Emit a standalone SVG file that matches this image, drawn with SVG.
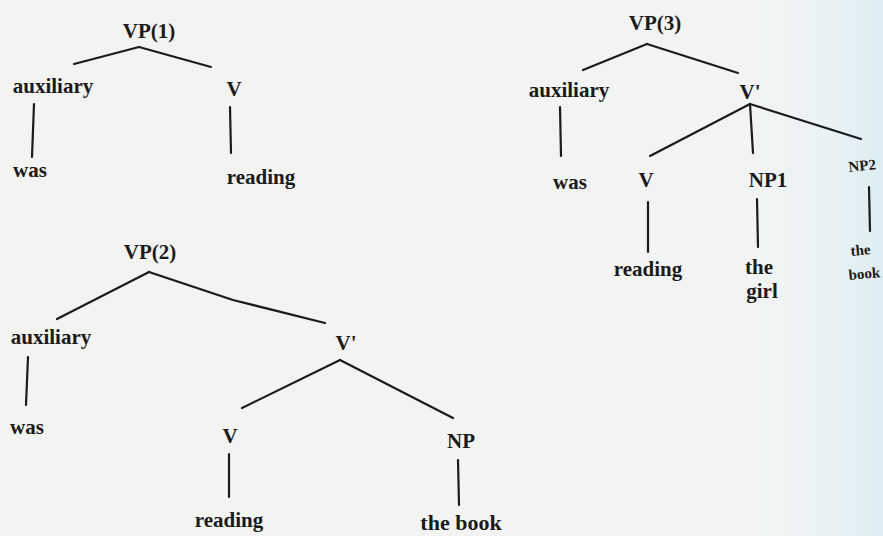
<svg xmlns="http://www.w3.org/2000/svg" width="883" height="536" viewBox="0 0 883 536">
  <defs>
    <linearGradient id="bg" x1="0" y1="0" x2="883" y2="0" gradientUnits="userSpaceOnUse">
      <stop offset="0" stop-color="#f3f3f1"/>
      <stop offset="0.85" stop-color="#f2f4f3"/>
      <stop offset="0.95" stop-color="#e8f2f5"/>
      <stop offset="1" stop-color="#dcedf4"/>
    </linearGradient>
    <style>
      text { font-family: "Liberation Serif", "DejaVu Serif", serif; font-weight: bold; font-size: 21px; fill: #1b1b1b; text-anchor: middle; }
      .l { text-anchor: start; }
      .sm { font-size: 15px; }
      line { stroke: #1b1b1b; stroke-width: 2.2; stroke-linecap: round; fill: none; }
    </style>
  </defs>
  <rect x="0" y="0" width="883" height="536" fill="url(#bg)"/>

  <g id="connectors">
    <!-- tree 1 -->
    <line x1="139" y1="47" x2="74" y2="64"/>
    <line x1="139" y1="47" x2="211" y2="67"/>
    <line x1="34" y1="104" x2="32" y2="157"/>
    <line x1="230" y1="107" x2="231" y2="153"/>
    <!-- tree 3 -->
    <line x1="647" y1="44" x2="583" y2="70"/>
    <line x1="647" y1="44" x2="738" y2="73"/>
    <line x1="560" y1="107" x2="561" y2="156"/>
    <line x1="750" y1="104" x2="650" y2="156"/>
    <line x1="750" y1="104" x2="753" y2="153"/>
    <line x1="750" y1="104" x2="861" y2="139"/>
    <line x1="648" y1="202" x2="648" y2="252"/>
    <line x1="757" y1="199" x2="758" y2="247"/>
    <line x1="869" y1="187" x2="870" y2="231"/>
    <!-- tree 2 -->
    <line x1="149" y1="272" x2="57" y2="319"/>
    <polyline points="149,272 233,300 325,323" style="stroke:#1b1b1b;stroke-width:2.2;fill:none;stroke-linecap:round;stroke-linejoin:round"/>
    <line x1="28" y1="357" x2="26" y2="405"/>
    <line x1="340" y1="360" x2="242" y2="408"/>
    <line x1="340" y1="360" x2="453" y2="418"/>
    <line x1="229" y1="454" x2="229" y2="497"/>
    <line x1="458" y1="460" x2="459" y2="505"/>
  </g>

  <!-- tree 1 -->
  <g id="t1-vp"><text x="149" y="38">VP(1)</text></g>
  <g id="t1-aux"><text x="53" y="93">auxiliary</text></g>
  <g id="t1-v"><text x="234" y="96">V</text></g>
  <g id="t1-was"><text x="30" y="177">was</text></g>
  <g id="t1-reading"><text x="261" y="184">reading</text></g>

  <!-- tree 2 -->
  <g id="t2-vp"><text x="150" y="259">VP(2)</text></g>
  <g id="t2-aux"><text x="51" y="344">auxiliary</text></g>
  <g id="t2-vbar"><text x="346" y="350">V'</text></g>
  <g id="t2-was"><text x="27" y="434">was</text></g>
  <g id="t2-v"><text x="230" y="443">V</text></g>
  <g id="t2-np"><text x="461" y="448">NP</text></g>
  <g id="t2-reading"><text x="229" y="527">reading</text></g>
  <g id="t2-thebook"><text x="461" y="530" style="font-size:22px">the book</text></g>

  <!-- tree 3 -->
  <g id="t3-vp"><text x="655" y="30">VP(3)</text></g>
  <g id="t3-aux"><text x="569" y="97">auxiliary</text></g>
  <g id="t3-vbar"><text x="750" y="99">V'</text></g>
  <g id="t3-was"><text x="570" y="189">was</text></g>
  <g id="t3-v"><text x="646" y="187">V</text></g>
  <g id="t3-np1"><text x="768" y="187">NP1</text></g>
  <g id="t3-np2"><text class="l sm" x="849" y="172" transform="rotate(-6 849 172)">NP2</text></g>
  <g id="t3-reading"><text x="648" y="276">reading</text></g>
  <g id="t3-thegirl"><text x="759" y="274">the</text><text x="762" y="298">girl</text></g>
  <g id="t3-thebook"><text class="l sm" x="851" y="256" transform="rotate(-5 851 256)">the</text><text class="l sm" x="849" y="280" transform="rotate(-5 849 280)">book</text></g>
</svg>
